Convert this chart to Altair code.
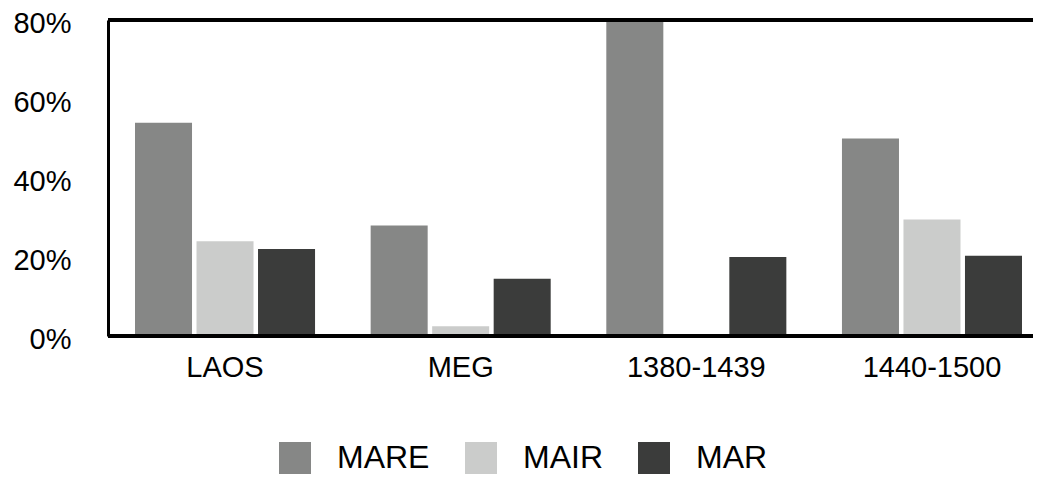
import altair as alt
import pandas as pd

categories = ["LAOS", "MEG", "1380-1439", "1440-1500"]
series = ["MARE", "MAIR", "MAR"]
mare = [54, 28, 80, 50]
mair = [24, 2.5, 0, 29.5]
mar = [22, 14.5, 20, 20.3]
colors = ["#868786", "#cbcccb", "#3b3c3b"]
y_ticks = [0, 0.2, 0.4, 0.6, 0.8]

rows = []
for name, vals in zip(series, [mare, mair, mar]):
    for c, v in zip(categories, vals):
        rows.append({"cat": c, "series": name, "value": v / 100})
df = pd.DataFrame(rows)

FONT = "Liberation Sans"

bars = alt.Chart(df).mark_bar().encode(
    x=alt.X("cat:N", sort=categories, title=None,
            scale=alt.Scale(range=[27, 914], paddingInner=0.236, paddingOuter=0),
            axis=alt.Axis(domain=False, ticks=False, labelAngle=0,
                          labelFontSize=29, labelFont=FONT, labelColor="#000",
                          labelPadding=17)),
    xOffset=alt.XOffset("series:N", sort=series,
                        scale=alt.Scale(paddingInner=0.073, paddingOuter=0)),
    y=alt.Y("value:Q", scale=alt.Scale(domain=[0, 0.8], nice=False), title=None,
            axis=alt.Axis(values=y_ticks, format=".0%", grid=False, ticks=False,
                          domain=True, domainColor="#000", domainWidth=3,
                          labelFontSize=29, labelFont=FONT, labelColor="#000",
                          labelPadding=37, labelOffset=3)),
    color=alt.Color("series:N", sort=series,
                    scale=alt.Scale(domain=series, range=colors),
                    legend=alt.Legend(title=None, orient="none", direction="horizontal",
                                      legendX=171, legendY=422,
                                      symbolType="square", symbolSize=1024,
                                      symbolStrokeWidth=0, symbolOpacity=1,
                                      labelFontSize=32, labelFont=FONT, labelColor="#000",
                                      labelOffset=26, columnPadding=35, padding=0)),
)

top_rule = alt.Chart(df).mark_rule(color="#000", strokeWidth=3).encode(
    y=alt.datum(0.8)
)
bottom_rule = alt.Chart(df).mark_rule(color="#000", strokeWidth=3).encode(
    y=alt.datum(0)
)

chart = alt.layer(bars, top_rule, bottom_rule).properties(
    width=925, height=316,
    autosize=alt.AutoSizeParams(type="none"),
    padding={"left": 100, "top": 12, "right": 0, "bottom": 140},
).configure_view(stroke=None)

chart.save("out.html", embed_options={"renderer": "svg", "actions": False})
